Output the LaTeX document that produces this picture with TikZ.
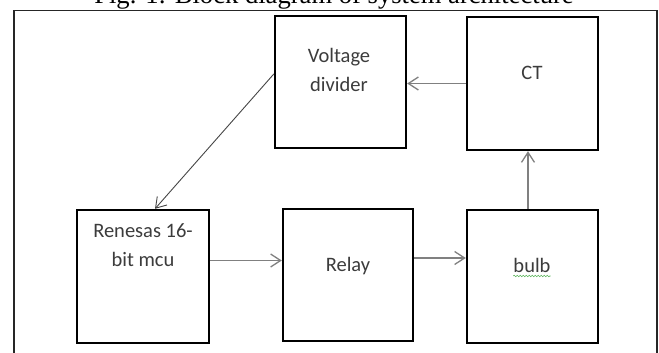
\documentclass[tikz,border=0pt]{standalone}
\usepackage{fontspec}
\setmainfont{Liberation Serif}
\newfontfamily\carlito{Carlito}
\usetikzlibrary{arrows.meta,decorations.pathmorphing}
\definecolor{arrowgray}{RGB}{128,128,128}
\definecolor{diaggray}{RGB}{70,70,70}
\definecolor{txtgray}{RGB}{60,60,60}
\definecolor{spellgreen}{RGB}{90,180,90}
\tikzset{
  blockbox/.style={draw=black, line width=2.4pt, inner sep=0pt},
  blocktext/.style={anchor=base, inner sep=0pt, text=txtgray, font=\carlito\fontsize{20.5}{29}\selectfont, align=center},
  flow/.style={draw=arrowgray, line width=1.3pt, -{Straight Barb[length=10pt,width=13pt,line width=1.3pt]}},
  diagflow/.style={draw=diaggray, line width=0.9pt, -{Straight Barb[length=10pt,width=13pt,line width=0.9pt]}},
}
\begin{document}
\begin{tikzpicture}[x=1pt,y=-1pt]
\path[use as bounding box, clip] (0,0) rectangle (659,353);
\fill[white] (0,0) rectangle (659,353);
% title (cut off at top, as in the reference)
\node[anchor=base, inner sep=0pt, font=\fontsize{26.6}{30}\selectfont] (title) at (334,3.5) {Fig. 1: Block diagram of system architecture};
% outer frame
\draw[line width=1.5pt, draw=black!85] (14,370) -- (14,10.5) -- (657,10.5) -- (657,370);
% boxes
\node[blockbox, minimum width=131pt, minimum height=132pt] (vd) at (340.5,82) {};
\node[blockbox, minimum width=131pt, minimum height=133pt] (ct) at (532.5,83.5) {};
\node[blockbox, minimum width=132pt, minimum height=133pt] (ren) at (143,276.5) {};
\node[blockbox, minimum width=130pt, minimum height=132pt] (relay) at (348,275) {};
\node[blockbox, minimum width=131pt, minimum height=133pt] (bulb) at (532.5,276.5) {};
% texts (base = baseline of the last line)
\node[blocktext] (vdt) at (339,92) {Voltage\\divider};
\node[blocktext] (ctt) at (532,80) {CT};
\node[blocktext] (rent) at (143,266) {Renesas 16-\\bit mcu};
\node[blocktext] (relayt) at (348,271) {Relay};
\node[blocktext] (bulbt) at (532,272) {bulb};
\draw[spellgreen, line width=0.6pt, decorate, decoration={snake, amplitude=0.8pt, segment length=3pt}] ([yshift=-4pt]bulbt.base west) -- ([yshift=-4pt]bulbt.base east);
% connector ends
\coordinate (vdout) at ([yshift=8pt]vd.west);
\coordinate (renin) at ([xshift=12pt]ren.north);
\coordinate (renout) at ([yshift=16pt]ren.east);
\coordinate (relayout) at ([yshift=17pt]relay.east);
\coordinate (bulbout) at ([xshift=-4.5pt]bulb.north);
% connectors
\draw[flow] (ct.west) -- (vd.east |- ct.west);
\draw[diagflow] (vdout) -- (renin);
\draw[flow] (renout) -- (relay.west |- renout);
\draw[flow] (relayout) -- (bulb.west |- relayout);
\draw[flow] (bulbout) -- (ct.south -| bulbout);
\end{tikzpicture}
\end{document}
